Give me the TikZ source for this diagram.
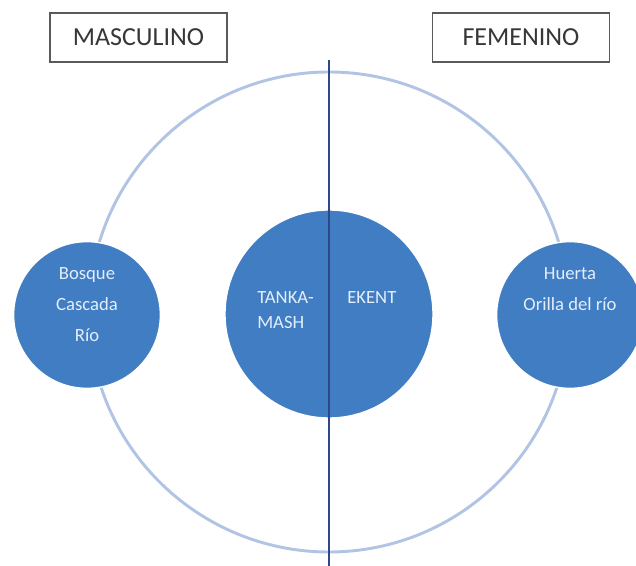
\documentclass[tikz,border=0pt]{standalone}
\usepackage{fontspec}
\setmainfont{Carlito}
\definecolor{blobblue}{RGB}{64,125,195}
\definecolor{ringc}{RGB}{178,196,228}
\definecolor{linec}{RGB}{44,72,138}
\definecolor{boxgray}{RGB}{90,90,90}
\definecolor{headc}{RGB}{55,55,55}
\definecolor{ctextc}{RGB}{228,238,250}
\begin{document}
\begin{tikzpicture}[x=0.75pt,y=-0.75pt,
  blob/.style={circle, fill=blobblue, draw=white, line width=1pt, inner sep=0pt, minimum size=#1},
  ctext/.style={text=ctextc, font=\fontsize{14}{17}\selectfont, inner sep=0pt},
  hbox/.style={draw=boxgray, line width=1.1pt, minimum width=132.75pt, minimum height=36.75pt, inner sep=0pt, text=headc, font=\fontsize{19.5}{22}\selectfont},
  ring/.style={draw=ringc, line width=2.2pt},
  divider/.style={draw=linec, line width=2.2pt}]
\useasboundingbox (0,0) rectangle (636,566);
\clip (0,0) rectangle (636,566);
\fill[white] (0,0) rectangle (636,566);
% outer ring
\draw[ring] (329,312) circle [radius=180pt];
% boxes
\node[hbox] (masc) at (138.5,37.5) {MASCULINO};
\node[hbox] (fem) at (521,37.5) {FEMENINO};
% circles
\node[blob=110pt] (lc) at (87,315) {};
\node[blob=110pt] (rc) at (570,315) {};
\node[blob=156pt] (cc) at (329,314) {};
% divider
\coordinate (ltop) at (329,60);
\coordinate (lbot) at (329,566);
\draw[divider] (ltop) -- (lbot);
% texts left
\node[ctext, anchor=base] (t1) at (87,280) {Bosque};
\node[ctext, anchor=base] (t2) at (87,311) {Cascada};
\node[ctext, anchor=base] (t3) at (87,342) {Río};
% texts right
\node[ctext, anchor=base] (t4) at (570,280) {Huerta};
\node[ctext, anchor=base] (t5) at (570,311) {Orilla del río};
% texts center
\node[ctext, anchor=base west] (t6) at (257,304) {TANKA-};
\node[ctext, anchor=base west] (t7) at (257,329) {MASH};
\node[ctext, anchor=base west] (t8) at (347,304) {EKENT};
\end{tikzpicture}
\end{document}
